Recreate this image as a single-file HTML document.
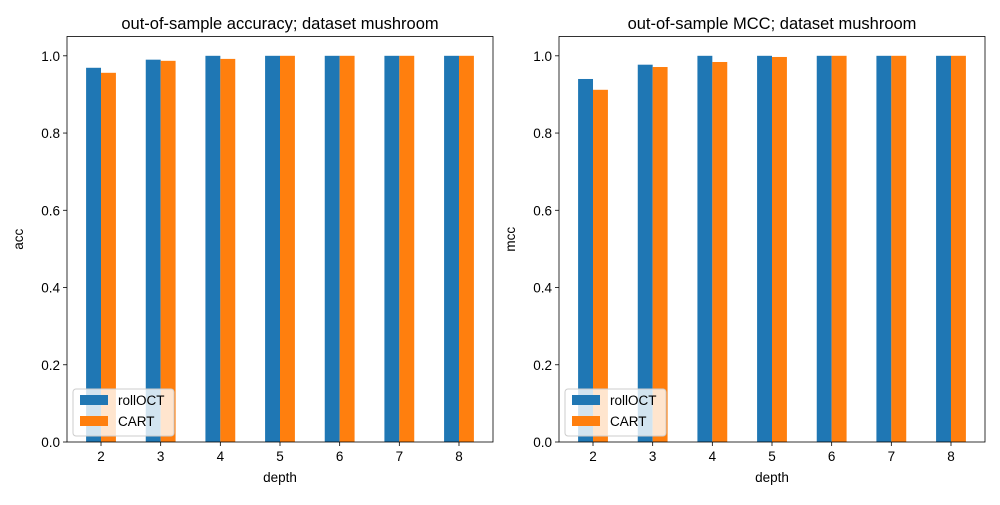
<!DOCTYPE html>
<html><head><meta charset="utf-8"><style>body{margin:0;background:#fff}svg text{font-family:"Liberation Sans","DejaVu Sans",sans-serif}</style></head>
<body><svg id="c" width="1000" height="500" xmlns="http://www.w3.org/2000/svg"></svg>
<script>
const categories=["2","3","4","5","6","7","8"];
const accRoll=[0.969,0.990,1.0,1.0,1.0,1.0,1.0];
const accCart=[0.956,0.987,0.992,1.0,1.0,1.0,1.0];
const mccRoll=[0.940,0.977,1.0,1.0,1.0,1.0,1.0];
const mccCart=[0.912,0.971,0.984,0.997,1.0,1.0,1.0];
const yTicks=[0,0.2,0.4,0.6,0.8,1.0];
const yTickLabels=["0.0","0.2","0.4","0.6","0.8","1.0"];
const svg=document.getElementById('c');const NS="http://www.w3.org/2000/svg";
function mk(t,a,p){const e=document.createElementNS(NS,t);for(const k in a)e.setAttribute(k,a[k]);(p||svg).appendChild(e);return e;}
function panel(x0,x1,title,ylab,roll,cart,id){
  const y0=442,y1=36.5,ymax=1.05;
  const g=mk('g',{});
  
  
  const xs=i=>x0+(i+0.57)/7.14*(x1-x0);const ys=v=>y0-v/ymax*(y0-y1);
  const step=(x1-x0)/7.14,bw=step*0.25;
  categories.forEach((c,i)=>{
    const cx=xs(i);
    const b1=mk('rect',{x:cx-bw,y:ys(roll[i]),width:bw,height:y0-ys(roll[i]),fill:'#1f77b4'},g);
    
    
    const b2=mk('rect',{x:cx,y:ys(cart[i]),width:bw,height:y0-ys(cart[i]),fill:'#ff7f0e'},g);
    
    
    mk('line',{x1:cx,x2:cx,y1:y0,y2:y0+4,stroke:'#000','stroke-width':0.8},g);
    const t=mk('text',{x:cx,y:y0+19,'font-size':13.5,'text-anchor':'middle'},g);t.textContent=c;
    
    
  });
  yTicks.forEach((v,i)=>{
    const y=ys(v);
    mk('line',{x1:x0-4,x2:x0,y1:y,y2:y,stroke:'#000','stroke-width':0.8},g);
    const t=mk('text',{x:x0-7,y:y+5,'font-size':13.5,'text-anchor':'end'},g);t.textContent=yTickLabels[i];
    
    
  });
  mk('rect',{x:x0,y:y1,width:x1-x0,height:y0-y1,fill:'none',stroke:'#000','stroke-width':0.8},g);
  const tt=mk('text',{x:(x0+x1)/2,y:29,'font-size':16.5,'text-anchor':'middle'},g);tt.textContent=title;
  
  
  const xl=mk('text',{x:(x0+x1)/2,y:482,'font-size':13.5,'text-anchor':'middle'},g);xl.textContent='depth';
  
  
  const yl=mk('text',{x:0,y:0,'font-size':13.5,'text-anchor':'middle',transform:`translate(${x0-44},${(y0+y1)/2}) rotate(-90)`},g);yl.textContent=ylab;
  
  
  const lg=mk('g',{},g);
  
  
  const lx=x0+6;
  mk('rect',{x:lx,y:389,width:101,height:47,rx:3,fill:'#fff','fill-opacity':0.8,stroke:'#ccc'},lg);
  mk('rect',{x:lx+7,y:395,width:28,height:10,fill:'#1f77b4'},lg);
  mk('rect',{x:lx+7,y:416,width:28,height:10,fill:'#ff7f0e'},lg);
  const l1=mk('text',{x:lx+45,y:405,'font-size':13.5},lg);l1.textContent='rollOCT';
  
  
  const l2=mk('text',{x:lx+45,y:426,'font-size':13.5},lg);l2.textContent='CART';
  
  
}
panel(67,493,'out-of-sample accuracy; dataset mushroom','acc',accRoll,accCart,'acc');
panel(559,985,'out-of-sample MCC; dataset mushroom','mcc',mccRoll,mccCart,'mcc');
</script></body></html>
